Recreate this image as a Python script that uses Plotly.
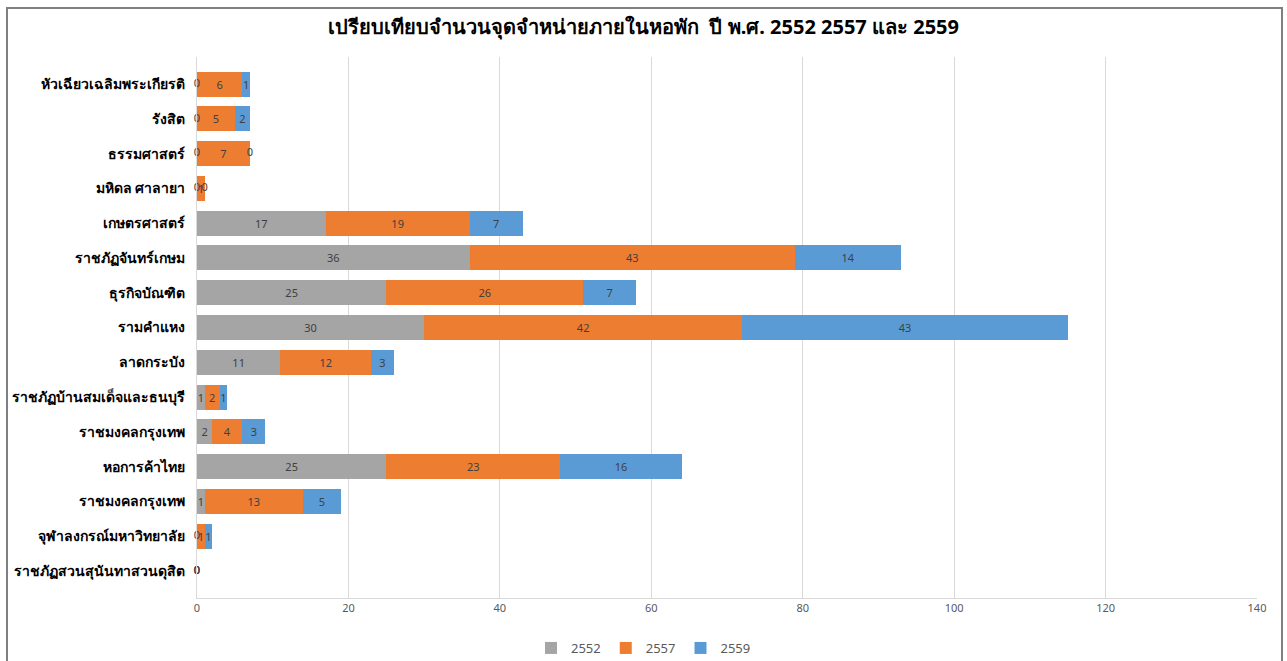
import plotly.graph_objects as go

categories = [
    "หัวเฉียวเฉลิมพระเกียรติ",
    "รังสิต",
    "ธรรมศาสตร์",
    "มหิดล ศาลายา",
    "เกษตรศาสตร์",
    "ราชภัฏจันทร์เกษม",
    "ธุรกิจบัณฑิต",
    "รามคำแหง",
    "ลาดกระบัง",
    "ราชภัฏบ้านสมเด็จและธนบุรี",
    "ราชมงคลกรุงเทพ",
    "หอการค้าไทย",
    "ราชมงคลกรุงเทพ",
    "จุฬาลงกรณ์มหาวิทยาลัย",
    "ราชภัฏสวนสุนันทาสวนดุสิต",
]
y2552 = [0, 0, 0, 0, 17, 36, 25, 30, 11, 1, 2, 25, 1, 0, 0]
y2557 = [6, 5, 7, 1, 19, 43, 26, 42, 12, 2, 4, 23, 13, 1, 0]
y2559 = [1, 2, 0, 0, 7, 14, 7, 43, 3, 1, 3, 16, 5, 1, 0]
series_names = ["2552", "2557", "2559"]
colors = ["#A5A5A5", "#ED7D31", "#5B9BD5"]
x_ticks = [0, 20, 40, 60, 80, 100, 120, 140]

FONT = "Noto Sans, DejaVu Sans, sans-serif"
LABEL_FONT = dict(color="#404040", size=11, family=FONT)
positions = list(range(len(categories)))

fig = go.Figure()
series = [y2552, y2557, y2559]
for name, vals, col in zip(series_names, series, colors):
    fig.add_trace(go.Bar(
        y=positions, x=vals, name=name, orientation="h",
        marker=dict(color=col, line=dict(width=0)),
        text=[str(v) if v else "" for v in vals], textposition="inside",
        insidetextanchor="middle", textangle=0,
        textfont=LABEL_FONT, constraintext="none",
    ))

# labels for zero-valued segments, placed at the segment's stacked position
zx, zy = [], []
bases = [0] * len(categories)
for vals in series:
    for i, v in enumerate(vals):
        if v == 0:
            zx.append(bases[i])
            zy.append(positions[i])
        bases[i] += v
fig.add_trace(go.Scatter(
    x=zx, y=zy, mode="text", text=["0"] * len(zx),
    textposition="middle center", textfont=LABEL_FONT,
    showlegend=False, hoverinfo="skip", cliponaxis=False,
))

fig.update_layout(
    barmode="stack",
    bargap=0.28,
    width=1287, height=661,
    margin=dict(l=197, r=30, t=57, b=63),
    paper_bgcolor="white", plot_bgcolor="white",
    font=dict(family=FONT, color="#595959"),
    uniformtext=dict(minsize=11, mode="show"),
    title=dict(
        text="<b>เปรียบเทียบจำนวนจุดจำหน่ายภายในหอพัก  ปี พ.ศ. 2552 2557 และ 2559</b>",
        x=0.5, xref="container", xanchor="center",
        y=1 - 27 / 661, yref="container", yanchor="middle",
        font=dict(size=20, color="#000000", family=FONT),
    ),
    legend=dict(
        orientation="h", x=0.5, xanchor="center", xref="container",
        y=1 - 648 / 661, yref="container", yanchor="middle",
        font=dict(size=13, color="#595959"), traceorder="normal",
        itemwidth=30,
    ),
    xaxis=dict(
        range=[0, 140], tickvals=x_ticks, ticktext=[str(t) for t in x_ticks],
        showgrid=True, gridcolor="#D9D9D9", gridwidth=1,
        zeroline=False, showline=True, linecolor="#D9D9D9",
        tickfont=dict(size=11, color="#595959"), ticks="",
    ),
    yaxis=dict(
        tickvals=positions, ticktext=["<b>%s</b>" % c for c in categories],
        autorange="reversed", showgrid=False, zeroline=False,
        showline=True, linecolor="#D9D9D9",
        tickfont=dict(size=14, color="#000000", family=FONT),
        ticks="", ticklabelstandoff=8,
    ),
    shapes=[dict(
        type="rect", xref="paper", yref="paper",
        x0=(7 - 197) / 1060, x1=(1282 - 197) / 1060,
        y0=(598 - 662) / 541, y1=(598 - 8) / 541,
        line=dict(color="#7F7F7F", width=2), fillcolor="rgba(0,0,0,0)",
        layer="below",
    )],
)

fig.write_html(
    "out.html",
    config={"displayModeBar": False},
    post_script="document.body.style.margin='0';document.body.style.padding='0';",
)
